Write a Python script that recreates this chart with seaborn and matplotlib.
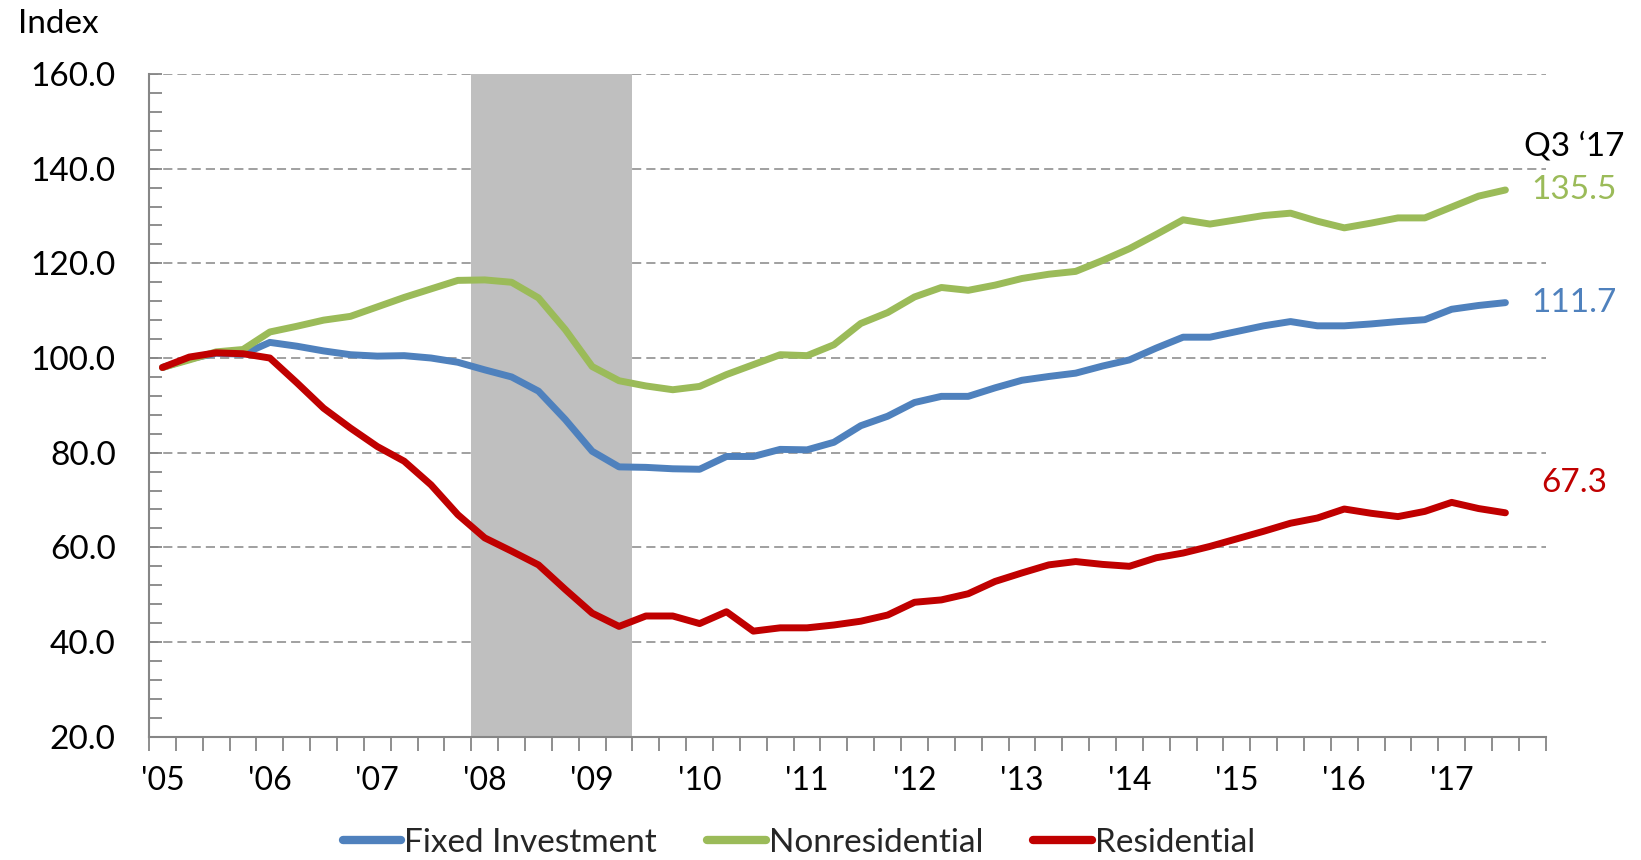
import numpy as np
import pandas as pd
import matplotlib
matplotlib.use("Agg")
import matplotlib.pyplot as plt
import seaborn as sns

# quarterly index values, Q1 2005 .. Q3 2017
fixed_investment = [98.0, 99.8, 101.0, 100.8, 103.3, 102.5, 101.5, 100.7, 100.4, 100.5,
                    100.0, 99.1, 97.5, 96.0, 93.0, 87.0, 80.3, 77.0, 76.9, 76.6,
                    76.5, 79.2, 79.2, 80.7, 80.6, 82.2, 85.7, 87.7, 90.6, 91.9,
                    91.9, 93.7, 95.3, 96.1, 96.8, 98.3, 99.6, 102.1, 104.4, 104.4,
                    105.6, 106.8, 107.7, 106.8, 106.8, 107.2, 107.7, 108.1, 110.3, 111.1,
                    111.7]
nonresidential = [98.0, 99.6, 101.3, 101.8, 105.5, 106.7, 108.0, 108.8, 110.8, 112.8,
                  114.6, 116.4, 116.5, 116.0, 112.7, 106.0, 98.2, 95.2, 94.1, 93.3,
                  94.0, 96.5, 98.6, 100.7, 100.5, 102.8, 107.3, 109.6, 112.9, 114.9,
                  114.3, 115.4, 116.8, 117.7, 118.3, 120.6, 123.1, 126.1, 129.2, 128.3,
                  129.2, 130.1, 130.6, 128.9, 127.5, 128.5, 129.6, 129.6, 131.9, 134.2,
                  135.5]
residential = [98.0, 100.2, 101.1, 100.9, 100.0, 94.8, 89.4, 85.2, 81.3, 78.2,
               73.2, 66.9, 62.0, 59.2, 56.3, 51.1, 46.1, 43.3, 45.5, 45.5,
               43.9, 46.4, 42.3, 43.0, 43.0, 43.6, 44.4, 45.7, 48.4, 48.9,
               50.2, 52.8, 54.6, 56.3, 57.0, 56.4, 56.0, 57.8, 58.8, 60.2,
               61.8, 63.4, 65.1, 66.2, 68.1, 67.2, 66.5, 67.6, 69.5, 68.2,
               67.3]

year_labels = ["'05", "'06", "'07", "'08", "'09", "'10", "'11", "'12",
               "'13", "'14", "'15", "'16", "'17"]
n_categories = 52              # axis runs through Q4 2017
recession = (12, 17)           # Q1 2008 .. Q2 2009 (category index)

series_names = ["Fixed Investment", "Nonresidential", "Residential"]
series_values = [fixed_investment, nonresidential, residential]
series_colors = ["#4F81BD", "#9BBB59", "#C00000"]
end_labels = ["111.7", "135.5", "67.3"]

# ---- styling ----
sns.set_theme(style="white")
plt.rcParams["font.family"] = ["Lato", "DejaVu Sans"]
grey = "#868686"

fig = plt.figure(figsize=(16.41, 8.6), dpi=100)
ax = fig.add_axes([149 / 1641, 1 - 736.7 / 860, (1545.7 - 149) / 1641, (736.7 - 74) / 860])

ax.axvspan(recession[0] - 0.5, recession[1] + 0.5, color="#BFBFBF", lw=0, zorder=1)

for name, vals, col in zip(series_names, series_values, series_colors):
    df = pd.DataFrame({"q": np.arange(len(vals)), "v": vals})
    sns.lineplot(data=df, x="q", y="v", ax=ax, color=col, lw=5, label=name,
                 solid_capstyle="round", solid_joinstyle="round", zorder=3)

ax.set_xlim(-0.5, n_categories - 0.5)
ax.set_ylim(20, 160)
ax.set_xlabel("")
ax.set_ylabel("")

# y axis
ax.set_yticks(np.arange(20, 161, 20))
ax.set_yticks(np.arange(20, 161, 4), minor=True)
ax.set_yticklabels([f"{v:.1f}" for v in np.arange(20, 161, 20)])
ax.tick_params(axis="y", which="both", direction="in", length=9, width=1.3,
               color=grey, left=True, pad=24, labelsize=24, labelcolor="black")

# x axis: ticks at category boundaries, labels at Q1 of each year
ax.set_xticks(np.arange(0, n_categories - 3, 4))
ax.set_xticklabels(year_labels)
ax.set_xticks(np.arange(-0.5, n_categories, 1), minor=True)
ax.tick_params(axis="x", which="major", length=0, pad=21, labelsize=23, labelcolor="black")
ax.tick_params(axis="x", which="minor", direction="out", length=10, width=1.3,
               color=grey, bottom=True)

for s in ["top", "right"]:
    ax.spines[s].set_visible(False)
for s in ["left", "bottom"]:
    ax.spines[s].set_color(grey)
    ax.spines[s].set_linewidth(1.5)
    ax.spines[s].set_zorder(2)

for y in np.arange(40, 161, 20):
    ax.axhline(y, color=grey, lw=1.1, ls=(0, (6, 3.3)), zorder=0.5)

# end-of-series labels
last = len(residential) - 1
label_y = {"Fixed Investment": fixed_investment[last],
           "Nonresidential": nonresidential[last],
           "Residential": residential[last] + 6.3}
for name, col, txt in zip(series_names, series_colors, end_labels):
    ax.annotate(txt, xy=(last, label_y[name]), xytext=(1574 - 1505.6, 0),
                textcoords="offset pixels", ha="center", va="center",
                fontsize=24, color=col, annotation_clip=False)

fig.text(1574 / 1641, 1 - 155 / 860, "Q3 \u201817", ha="center", va="baseline",
         fontsize=24, color="black")
fig.text(18 / 1641, 1 - 33 / 860, "Index", ha="left", va="baseline",
         fontsize=24, color="black")

leg = ax.legend(loc="center", bbox_to_anchor=(799 / 1641, 1 - 843 / 860),
                bbox_transform=fig.transFigure, ncol=3, frameon=False, fontsize=24,
                handlelength=1.75, handletextpad=0.1, columnspacing=1.5)
for h in leg.get_lines():
    h.set_linewidth(6)

fig.savefig("out.png", dpi=100)
